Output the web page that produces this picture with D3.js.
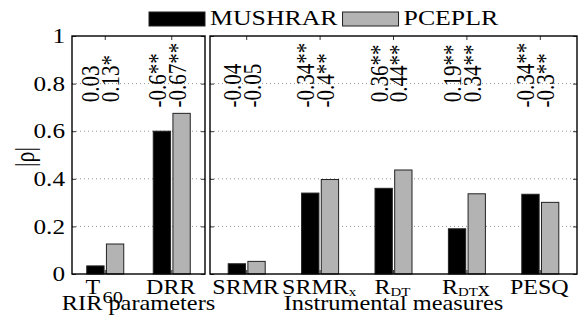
<!DOCTYPE html>
<html>
<head>
<meta charset="utf-8">
<script src="https://cdn.jsdelivr.net/npm/d3@7"></script>
<style>
  body { margin: 0; background: #fff; }
</style>
</head>
<body>
<svg id="chart" width="584" height="322" font-family="'Liberation Serif', 'Times New Roman', Times, 'DejaVu Serif', serif"></svg>
<script>
// data
const series = ["MUSHRAR", "PCEPLR"]
const series_colors = ["#000000", "#b3b3b3"]
const panel_names = ["RIR parameters", "Instrumental measures"]
const left_categories = ["T_{60}", "DRR"]
const right_categories = ["SRMR", "SRMR_{x}", "R_{DT}", "R_{DT}x", "PESQ"]
const mushra_values = [0.034, 0.60, 0.043, 0.34, 0.36, 0.19, 0.335]
const pceplr_values = [0.126, 0.675, 0.053, 0.397, 0.437, 0.337, 0.301]
const mushra_labels = ["0.03", "-0.6**", "-0.04", "-0.34**", "0.36**", "0.19**", "-0.34**"]
const pceplr_labels = ["0.13*", "-0.67**", "-0.05", "-0.4**", "0.44**", "0.34**", "-0.3**"]
const y_ticks = [0, 0.2, 0.4, 0.6, 0.8, 1]
const grid_ticks = [0.2, 0.4, 0.6, 0.8]

// the original figure's text is a bit wider than Times, stretch it
const sx = 1.2

const svg = d3.select("#chart")
const y = d3.scaleLinear().domain([0, 1]).range([274, 36])

const panels = [
  { name: panel_names[0], cats: left_categories, x0: 72, x1: 205, offset: 0 },
  { name: panel_names[1], cats: right_categories, x0: 210, x1: 577, offset: left_categories.length }
]

function wide_text(parent, x, y, size) {
  return parent.append("text")
    .attr("transform", "translate(" + x + "," + y + ") scale(" + sx + ",1)")
    .attr("font-size", size)
}

// write "R_{DT}x" style labels as tspans
function rich_label(sel, str, size) {
  var parts = str.split(/(_\{[^}]*\})/).filter(s => s.length)
  parts.forEach((p) => {
    if (p.startsWith("_{")) {
      var sub = p.slice(2, -1)
      var numeric = /^[0-9]+$/.test(sub)
      var shift = numeric ? 9 : 2
      sel.append("tspan")
        .attr("font-size", size * (numeric ? 0.85 : 0.62))
        .attr("dx", numeric ? 2 : 0)
        .attr("dy", shift)
        .text(sub)
      sel.append("tspan").attr("dy", -shift).text("")
    } else {
      sel.append("tspan").text(p)
    }
  })
}

panels.forEach((panel) => {
  var x = d3.scaleBand().domain(panel.cats).range([panel.x0, panel.x1])
  var inner = d3.scaleBand().domain(series).range([-18.5, 18.5]).paddingInner(0.12)
  var g = svg.append("g")

  // dotted grid
  g.selectAll("line.grid")
    .data(grid_ticks)
    .enter()
    .append("line")
    .attr("class", "grid")
    .attr("x1", panel.x0)
    .attr("x2", panel.x1)
    .attr("y1", d => y(d))
    .attr("y2", d => y(d))
    .attr("stroke", "#8a8a8a")
    .attr("stroke-width", 0.9)
    .attr("stroke-dasharray", "1,3")

  var rows = panel.cats.map((c, i) => ({
    cat: c,
    vals: [mushra_values[panel.offset + i], pceplr_values[panel.offset + i]],
    labels: [mushra_labels[panel.offset + i], pceplr_labels[panel.offset + i]]
  }))

  rows.forEach((row) => {
    var cx = x(row.cat) + x.bandwidth() / 2
    series.forEach((s, j) => {
      g.append("rect")
        .attr("x", cx + inner(s))
        .attr("y", y(row.vals[j]))
        .attr("width", inner.bandwidth())
        .attr("height", y(0) - y(row.vals[j]))
        .attr("fill", series_colors[j])
        .attr("stroke", "#222")
        .attr("stroke-width", 1)
      var tx = cx + inner(s) + inner.bandwidth() / 2 + 4
      var lab = row.labels[j]
      g.append("text")
        .attr("transform", "translate(" + tx + "," + y(0.7) + ") scale(" + sx + ",1) rotate(-90)")
        .attr("font-size", 21)
        .text((lab.startsWith("-") ? "" : "\u00A0") + lab)
    })
    var t = wide_text(g, cx - 1, 294, 20).attr("text-anchor", "middle")
    rich_label(t, row.cat, 20)
  })

  // ticks on all four sides, pointing inward
  var ax_l = g.append("g").attr("transform", "translate(" + panel.x0 + ",0)")
    .call(d3.axisLeft(y).tickValues(y_ticks).tickSize(-4).tickPadding(7)
      .tickFormat(panel.offset === 0 ? d3.format("") : () => ""))
  var ax_r = g.append("g").attr("transform", "translate(" + panel.x1 + ",0)")
    .call(d3.axisRight(y).tickValues(y_ticks).tickSize(-4).tickFormat(() => ""))
  var ax_t = g.append("g").attr("transform", "translate(0," + y(1) + ")")
    .call(d3.axisTop(x).tickSize(-4).tickFormat(() => ""))
  var ax_b = g.append("g").attr("transform", "translate(0," + y(0) + ")")
    .call(d3.axisBottom(x).tickSize(-4).tickFormat(() => ""))
  ;[ax_l, ax_r, ax_t, ax_b].forEach((a) => {
    a.attr("font-family", null)
    a.select(".domain").remove()
    a.selectAll("line").attr("stroke", "#000").attr("stroke-width", 0.8)
    a.selectAll("text").attr("font-size", 21).attr("fill", "#000")
  })
  ax_l.selectAll("text")
    .attr("x", -7 / sx)
    .attr("transform", "scale(" + sx + ",1)")

  g.append("rect")
    .attr("x", panel.x0)
    .attr("y", y(1))
    .attr("width", panel.x1 - panel.x0)
    .attr("height", y(0) - y(1))
    .attr("fill", "none")
    .attr("stroke", "#000")
    .attr("stroke-width", 1.4)

  wide_text(g, (panel.x0 + panel.x1) / 2, 310, 20.3)
    .attr("text-anchor", "middle")
    .text(panel.name)
})

// y label
svg.append("text")
  .attr("transform", "translate(34,157) scale(" + sx + ",1) rotate(-90)")
  .attr("text-anchor", "middle")
  .attr("font-size", 22)
  .text("|\u03C1|")

// legend
var lx = 149
series.forEach((s, j) => {
  svg.append("rect")
    .attr("x", lx)
    .attr("y", 12)
    .attr("width", 56)
    .attr("height", 14)
    .attr("fill", series_colors[j])
    .attr("stroke", "#222")
    .attr("stroke-width", 1)
  var t = wide_text(svg, lx + 61, 25, 21.5).text(s)
  lx = lx + 61 + t.node().getComputedTextLength() * sx + 5
})
</script>
</body>
</html>
